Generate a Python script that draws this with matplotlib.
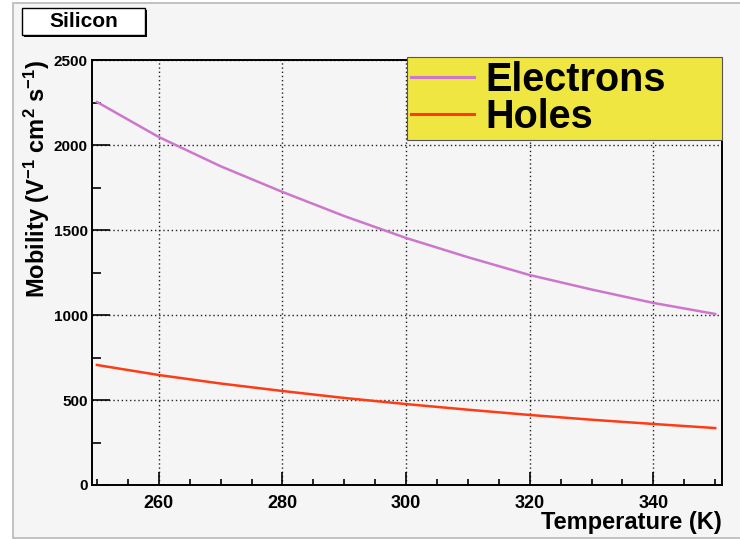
import matplotlib
matplotlib.use("Agg")
import matplotlib.pyplot as plt
from matplotlib.patches import Rectangle
from matplotlib.ticker import MultipleLocator

# carrier mobility in silicon vs temperature
temperature = [250, 260, 270, 280, 290, 300, 310, 320, 330, 340, 350]
mu_electrons = [2253, 2047, 1875, 1724, 1582, 1453, 1340, 1235, 1150, 1071, 1006]
mu_holes = [706, 647, 597, 553, 512, 476, 443, 412, 384, 359, 335]

x_ticks = [260, 280, 300, 320, 340]
y_ticks = [0, 500, 1000, 1500, 2000, 2500]

plt.rcParams["font.family"] = ["Liberation Sans", "DejaVu Sans"]
plt.rcParams["font.weight"] = "bold"
plt.rcParams["mathtext.fontset"] = "custom"
plt.rcParams["mathtext.rm"] = "Liberation Sans:bold"
plt.rcParams["mathtext.bf"] = "Liberation Sans:bold"
plt.rcParams["mathtext.default"] = "bf"

W, H = 740, 539
fig = plt.figure(figsize=(W / 100, H / 100), dpi=100, facecolor="white")

# canvas background
fig.patches.append(Rectangle((13 / W, 1 / H), 1.1, 1 - 4 / H, transform=fig.transFigure,
                             facecolor="#f5f5f5", edgecolor="#b8b8b8", lw=1.2, zorder=-10))

ax = fig.add_axes([92 / W, 1 - 485 / H, (722 - 92) / W, (485 - 60) / H])
ax.set_facecolor("none")

ax.plot(temperature, mu_electrons, color="#cc77cc", lw=1.8, label="Electrons", zorder=3)
ax.plot(temperature, mu_holes, color="#ff3b14", lw=1.8, label="Holes", zorder=3)

ax.set_xlim(249.2, 351.1)
ax.set_ylim(0, 2500)
ax.set_xticks(x_ticks)
ax.set_yticks(y_ticks)
ax.xaxis.set_minor_locator(MultipleLocator(5))
ax.yaxis.set_minor_locator(MultipleLocator(250))

ax.grid(which="major", color="#222222", linestyle=(0, (1, 2)), lw=1.0, zorder=1)

for s in ax.spines.values():
    s.set_linewidth(1.4)
ax.tick_params(axis="both", which="both", direction="in", top=False, right=False, width=1.2)
ax.tick_params(axis="x", which="major", length=9.5, pad=7, labelsize=13)
ax.tick_params(axis="x", which="minor", length=4.5)
ax.tick_params(axis="y", which="major", length=13, pad=3, labelsize=11)
ax.tick_params(axis="y", which="minor", length=6.5)

ax.set_xlabel("Temperature (K)", fontsize=17, fontweight="bold", loc="right")
ax.xaxis.set_label_coords(1.0, -0.062)
ax.set_ylabel(r"Mobility (V$^{-1}$ cm$^{2}$ s$^{-1}$)", fontsize=17, fontweight="bold",
              loc="top")
ax.yaxis.set_label_coords(-0.063, 1.0)

leg = ax.legend(loc="upper left", bbox_to_anchor=(407 / W, 1 - 138 / H, 315 / W, 81 / H),
                bbox_transform=fig.transFigure, mode="expand", fontsize=28.5,
                frameon=True, fancybox=False, framealpha=1, facecolor="#efe641",
                edgecolor="#555555", handlelength=1.6, handletextpad=0.28,
                labelspacing=-0.03, borderpad=0.1, borderaxespad=0)
leg.get_frame().set_linewidth(0.8)
for t in leg.get_texts():
    t.set_fontweight("bold")
for h in leg.get_lines():
    h.set_linewidth(2.2)

# "Silicon" label box with shadow
fig.patches.append(Rectangle((24 / W, 1 - 37 / H), 123 / W, 27 / H, transform=fig.transFigure,
                             facecolor="black", edgecolor="none", zorder=5))
fig.patches.append(Rectangle((22 / W, 1 - 35 / H), 123 / W, 27 / H, transform=fig.transFigure,
                             facecolor="white", edgecolor="black", lw=1.0, zorder=6))
fig.text(83.5 / W, 1 - 21.5 / H, "Silicon", fontsize=15, fontweight="bold",
         ha="center", va="center", zorder=7)

fig.savefig("out.png", dpi=100, facecolor=fig.get_facecolor())
